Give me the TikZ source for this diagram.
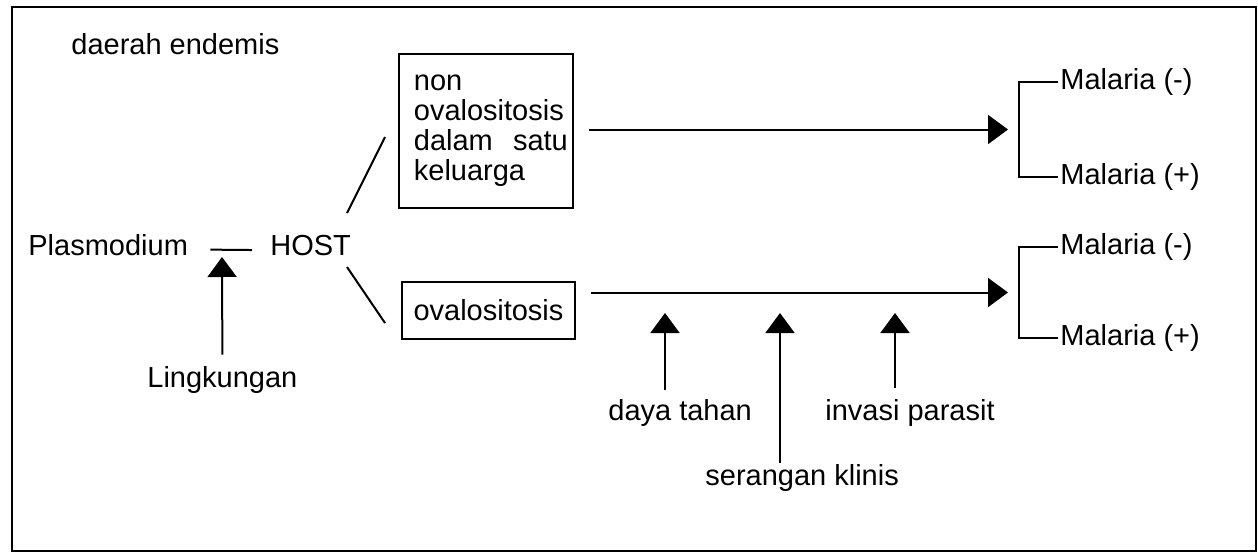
\documentclass[tikz,border=0pt]{standalone}
\usepackage{fontspec}
\setmainfont{Liberation Sans}
\usetikzlibrary{arrows.meta,calc}
\begin{document}
\begin{tikzpicture}[x=0.5pt,y=-0.5pt,
  lbl/.style={inner sep=0pt, anchor=base west, font=\fontsize{14.5pt}{15pt}\selectfont},
  mal/.style={inner sep=0pt, anchor=west, font=\fontsize{14.5pt}{15pt}\selectfont},
  ln/.style={line width=1pt},
  arr/.style={line width=1pt, -{Triangle[length=10pt,width=14.5pt]}},
  boxed/.style={draw, line width=0.9pt, font=\fontsize{14.5pt}{15pt}\selectfont}]
\useasboundingbox (0,0) rectangle (1258,553);
\draw[line width=1.2pt] (12,7) rectangle (1256,551);

\node[lbl] (endemis) at (71,54) {daerah endemis};
\node[lbl] (plas) at (28,255) {Plasmodium};
\node[lbl] (host) at (270,255) {HOST};
\node[lbl] (ling) at (147,387) {Lingkungan};

\node[boxed, anchor=north west, text width=72pt, inner xsep=7.5pt, inner ysep=0pt,
      minimum height=77pt, align=left] (box1) at (398,53)
  {non\\ovalositosis\\\makebox[77pt][s]{dalam\hfill satu}\\keluarga};
\node[boxed, minimum width=86.5pt, minimum height=28.5pt, inner sep=0pt] (box2) at (488.5,310.5) {ovalositosis};

\node[mal] (m1) at (1060,82) {Malaria (-)};
\node[mal] (m2) at (1060,177) {Malaria (+)};
\node[mal] (m3) at (1060,247) {Malaria (-)};
\node[mal] (m4) at (1060,338) {Malaria (+)};

\node[lbl] (daya) at (608,420) {daya tahan};
\node[lbl] (seran) at (705,485) {serangan klinis};
\node[lbl] (invasi) at (825,420) {invasi parasit};

% Plasmodium -- HOST
\draw[ln] ([shift={(22,5)}]plas.east) -- coordinate (dash) ([shift={(-18,5)}]host.west);
\coordinate (lkTip) at (222,257);
\draw[arr] ([yshift=5.5pt]ling.north) -- (lkTip);

% HOST to boxes
\coordinate (hu) at (347,213);
\coordinate (bu) at (385,137);
\coordinate (hd) at (347,267);
\coordinate (bd) at (385,323);
\draw[ln] (hu) -- (bu);
\draw[ln] (hd) -- (bd);

% brackets
\draw[ln] ([xshift=-1pt]m1.west) -- ++(-39,0) coordinate (s1) |- ([xshift=-1pt]m2.west);
\draw[ln] ([xshift=-1pt]m3.west) -- ++(-39,0) coordinate (s3) |- ([xshift=-1pt]m4.west);
\coordinate (mid1) at ($(m1.west)!0.5!(m2.west)+(-40,0)$);
\coordinate (mid2) at ($(m3.west)!0.5!(m4.west)+(-40,0)$);

% main arrows
\draw[arr, shorten >=6pt] ([xshift=7.5pt]box1.east |- mid1) -- (mid1);
\draw[arr, shorten >=6pt] ([xshift=7.5pt]box2.east |- mid2) -- (mid2);

% factor arrows
\coordinate (tD) at (665,313);
\coordinate (tS) at (780,313);
\coordinate (tI) at (895,313);
\draw[arr] (daya.north -| tD) ++(0,-9) -- (tD);
\draw[arr] (seran.north -| tS) ++(0,-1) -- (tS);
\draw[arr] (invasi.north -| tI) ++(0,-11) -- (tI);
\end{tikzpicture}
\end{document}
